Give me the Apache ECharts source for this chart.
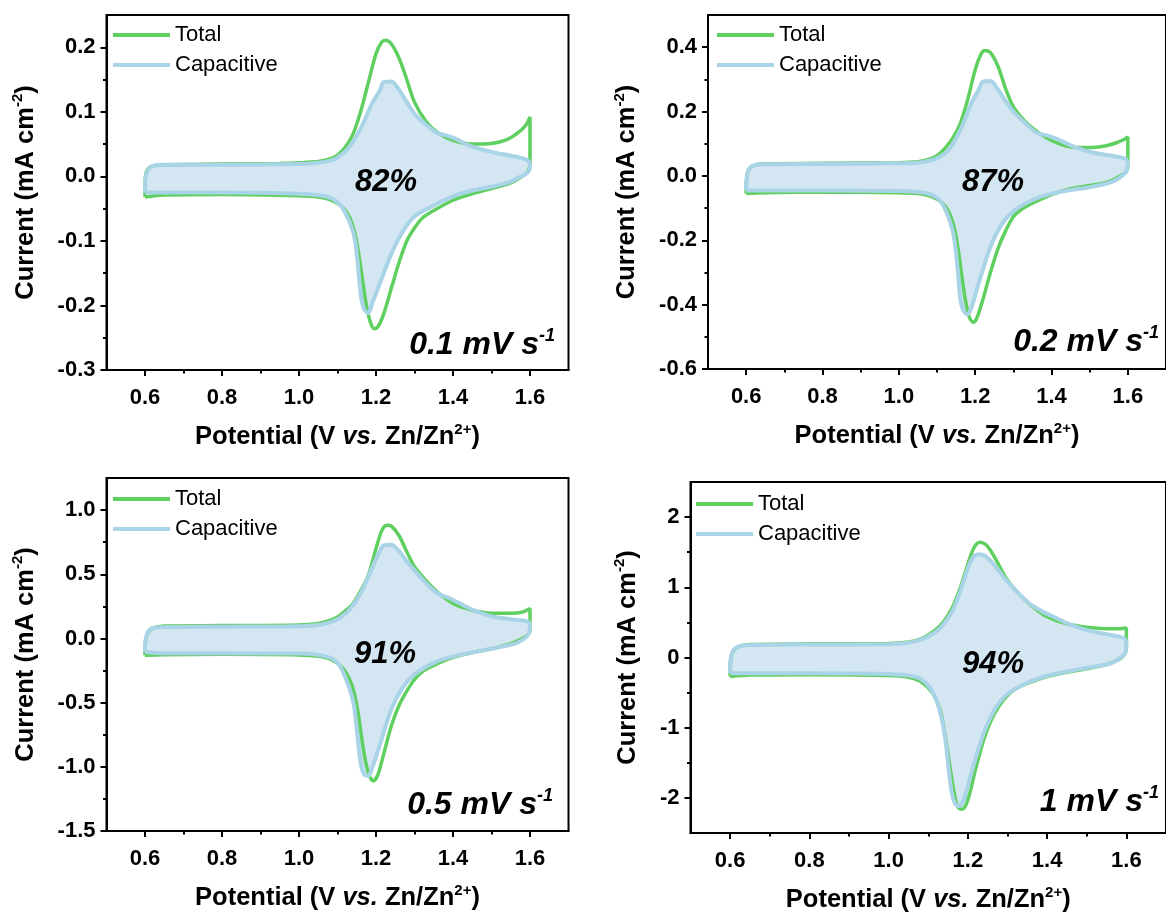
<!DOCTYPE html>
<html><head><meta charset="utf-8">
<script src="https://cdn.jsdelivr.net/npm/echarts@6/dist/echarts.min.js"></script>
<style>html,body{margin:0;padding:0;background:#fff}#c{width:1166px;height:914px}</style>
</head><body><div id="c"></div>
<script>
// ---------- data ----------
const xTicks = [0.6, 0.8, 1.0, 1.2, 1.4, 1.6];
const xMinor = [0.7, 0.9, 1.1, 1.3, 1.5];
const y1Ticks = [-0.3, -0.2, -0.1, 0, 0.1, 0.2];
const y1Minor = [-0.25, -0.15, -0.05, 0.05, 0.15];
const y2Ticks = [-0.6, -0.4, -0.2, 0, 0.2, 0.4];
const y2Minor = [-0.5, -0.3, -0.1, 0.1, 0.3];
const y3Ticks = [-1.5, -1.0, -0.5, 0, 0.5, 1.0];
const y3Minor = [-1.25, -0.75, -0.25, 0.25, 0.75];
const y4Ticks = [-2, -1, 0, 1, 2];
const y4Minor = [-1.5, -0.5, 0.5, 1.5];

const seriesNames = ['Total', 'Capacitive'];
const percents = ['82%', '87%', '91%', '94%'];
const rates = ['0.1', '0.2', '0.5', '1'];

const total1 = [[0.6,-0.032],[0.601,0.0],[0.607,0.011],[0.62,0.016],[0.65,0.018],[0.8,0.019],[0.95,0.02],[1.0,0.021],[1.05,0.023],[1.08,0.027],[1.1,0.033],[1.12,0.045],[1.14,0.065],[1.16,0.1],[1.18,0.145],[1.2,0.19],[1.215,0.208],[1.225,0.211],[1.24,0.205],[1.26,0.183],[1.28,0.15],[1.3,0.115],[1.33,0.085],[1.36,0.068],[1.4,0.056],[1.45,0.05],[1.5,0.051],[1.54,0.057],[1.57,0.068],[1.59,0.08],[1.6,0.092],
[1.6,0.06],[1.6,0.02],[1.595,0.008],[1.58,0.0],[1.55,-0.01],[1.5,-0.019],[1.45,-0.027],[1.4,-0.037],[1.35,-0.053],[1.32,-0.065],[1.3,-0.08],[1.28,-0.1],[1.26,-0.133],[1.24,-0.173],[1.22,-0.213],[1.205,-0.233],[1.195,-0.236],[1.185,-0.225],[1.175,-0.2],[1.165,-0.16],[1.155,-0.12],[1.145,-0.088],[1.13,-0.062],[1.11,-0.046],[1.08,-0.036],[1.05,-0.032],[1.0,-0.03],[0.8,-0.028],[0.65,-0.029],[0.6,-0.032]];
const cap1 = [[0.6,-0.025],[0.601,-0.005],[0.606,0.008],[0.615,0.015],[0.64,0.018],[0.8,0.018],[1.0,0.019],[1.05,0.021],[1.08,0.024],[1.1,0.029],[1.13,0.045],[1.16,0.074],[1.19,0.113],[1.21,0.133],[1.22,0.146],[1.24,0.147],[1.26,0.134],[1.28,0.115],[1.3,0.097],[1.33,0.08],[1.36,0.067],[1.38,0.064],[1.4,0.06],[1.45,0.046],[1.5,0.038],[1.55,0.032],[1.58,0.028],[1.595,0.024],[1.6,0.018],[1.598,0.009],
[1.59,0.004],[1.57,-0.002],[1.55,-0.008],[1.5,-0.016],[1.45,-0.022],[1.4,-0.031],[1.35,-0.045],[1.3,-0.062],[1.27,-0.085],[1.24,-0.12],[1.21,-0.166],[1.19,-0.197],[1.18,-0.212],[1.17,-0.207],[1.162,-0.19],[1.155,-0.15],[1.148,-0.11],[1.14,-0.085],[1.12,-0.056],[1.1,-0.04],[1.07,-0.031],[1.0,-0.027],[0.8,-0.025],[0.65,-0.025],[0.6,-0.025]];

const total2 = [[0.6,-0.055],[0.601,-0.01],[0.607,0.02],[0.62,0.033],[0.65,0.038],[0.8,0.039],[1.0,0.041],[1.05,0.044],[1.08,0.052],[1.1,0.063],[1.12,0.085],[1.14,0.115],[1.16,0.16],[1.18,0.235],[1.2,0.33],[1.215,0.378],[1.225,0.39],[1.24,0.383],[1.26,0.34],[1.28,0.27],[1.3,0.215],[1.33,0.17],[1.36,0.14],[1.4,0.11],[1.45,0.09],[1.5,0.088],[1.54,0.093],[1.57,0.103],[1.59,0.113],[1.6,0.121],
[1.6,0.08],[1.6,0.03],[1.595,0.012],[1.58,0.0],[1.55,-0.018],[1.5,-0.03],[1.45,-0.04],[1.4,-0.058],[1.35,-0.085],[1.32,-0.105],[1.3,-0.127],[1.28,-0.17],[1.26,-0.225],[1.24,-0.3],[1.22,-0.385],[1.205,-0.44],[1.195,-0.455],[1.185,-0.44],[1.175,-0.39],[1.165,-0.31],[1.155,-0.225],[1.145,-0.16],[1.13,-0.11],[1.11,-0.08],[1.08,-0.062],[1.05,-0.055],[1.0,-0.052],[0.8,-0.05],[0.65,-0.052],[0.6,-0.055]];
const cap2 = [[0.6,-0.045],[0.601,-0.01],[0.606,0.018],[0.615,0.03],[0.64,0.036],[0.8,0.037],[1.0,0.039],[1.05,0.041],[1.08,0.047],[1.1,0.055],[1.13,0.08],[1.16,0.14],[1.19,0.225],[1.21,0.27],[1.22,0.293],[1.24,0.295],[1.26,0.268],[1.28,0.232],[1.3,0.2],[1.33,0.165],[1.36,0.135],[1.39,0.125],[1.42,0.112],[1.45,0.095],[1.5,0.075],[1.55,0.064],[1.58,0.058],[1.595,0.052],[1.6,0.04],[1.598,0.018],
[1.59,0.005],[1.57,-0.012],[1.55,-0.022],[1.5,-0.035],[1.45,-0.044],[1.4,-0.055],[1.35,-0.075],[1.3,-0.11],[1.27,-0.15],[1.24,-0.22],[1.21,-0.33],[1.19,-0.41],[1.18,-0.43],[1.17,-0.42],[1.162,-0.39],[1.155,-0.3],[1.148,-0.22],[1.14,-0.165],[1.12,-0.1],[1.1,-0.068],[1.07,-0.053],[1.0,-0.047],[0.8,-0.045],[0.65,-0.045],[0.6,-0.045]];

const total3 = [[0.6,-0.13],[0.601,-0.03],[0.607,0.04],[0.62,0.08],[0.65,0.097],[0.8,0.1],[1.0,0.105],[1.05,0.117],[1.08,0.14],[1.1,0.168],[1.12,0.215],[1.14,0.27],[1.16,0.37],[1.18,0.49],[1.2,0.7],[1.215,0.84],[1.228,0.882],[1.24,0.875],[1.26,0.8],[1.28,0.675],[1.3,0.558],[1.33,0.45],[1.36,0.36],[1.4,0.273],[1.45,0.22],[1.5,0.197],[1.55,0.196],[1.58,0.205],[1.6,0.234],
[1.6,0.15],[1.6,0.06],[1.595,0.03],[1.58,0.0],[1.55,-0.04],[1.5,-0.08],[1.45,-0.11],[1.4,-0.148],[1.35,-0.21],[1.32,-0.26],[1.3,-0.32],[1.28,-0.41],[1.26,-0.52],[1.24,-0.68],[1.22,-0.9],[1.205,-1.06],[1.193,-1.11],[1.183,-1.07],[1.173,-0.96],[1.163,-0.78],[1.153,-0.57],[1.143,-0.42],[1.13,-0.31],[1.11,-0.22],[1.08,-0.16],[1.05,-0.138],[1.0,-0.128],[0.8,-0.124],[0.65,-0.126],[0.6,-0.13]];
const cap3 = [[0.6,-0.105],[0.601,-0.02],[0.606,0.04],[0.615,0.075],[0.64,0.088],[0.8,0.092],[1.0,0.095],[1.05,0.105],[1.08,0.125],[1.1,0.15],[1.13,0.22],[1.16,0.35],[1.19,0.55],[1.21,0.68],[1.22,0.725],[1.24,0.73],[1.26,0.68],[1.28,0.6],[1.3,0.53],[1.33,0.43],[1.36,0.35],[1.39,0.315],[1.42,0.27],[1.45,0.225],[1.5,0.172],[1.55,0.15],[1.58,0.14],[1.595,0.13],[1.6,0.11],[1.598,0.05],
[1.59,0.01],[1.57,-0.03],[1.55,-0.05],[1.5,-0.08],[1.45,-0.11],[1.4,-0.14],[1.35,-0.19],[1.3,-0.28],[1.27,-0.38],[1.24,-0.55],[1.21,-0.83],[1.19,-1.01],[1.18,-1.07],[1.17,-1.06],[1.162,-1.0],[1.155,-0.85],[1.148,-0.65],[1.14,-0.48],[1.12,-0.3],[1.1,-0.19],[1.07,-0.14],[1.0,-0.118],[0.8,-0.115],[0.65,-0.115],[0.6,-0.105]];

const total4 = [[0.6,-0.27],[0.601,-0.05],[0.607,0.08],[0.62,0.15],[0.65,0.185],[0.8,0.195],[1.0,0.2],[1.05,0.22],[1.08,0.26],[1.1,0.32],[1.12,0.4],[1.14,0.52],[1.16,0.7],[1.18,0.98],[1.2,1.33],[1.215,1.56],[1.23,1.64],[1.245,1.61],[1.26,1.5],[1.28,1.3],[1.3,1.1],[1.33,0.9],[1.36,0.74],[1.4,0.58],[1.45,0.48],[1.5,0.43],[1.55,0.41],[1.58,0.41],[1.6,0.42],
[1.6,0.3],[1.6,0.12],[1.595,0.04],[1.58,-0.03],[1.55,-0.1],[1.5,-0.16],[1.45,-0.21],[1.4,-0.27],[1.35,-0.37],[1.32,-0.45],[1.3,-0.54],[1.28,-0.68],[1.26,-0.88],[1.24,-1.17],[1.22,-1.58],[1.205,-1.93],[1.195,-2.1],[1.185,-2.16],[1.175,-2.13],[1.168,-2.0],[1.16,-1.75],[1.15,-1.38],[1.14,-1.02],[1.13,-0.75],[1.11,-0.5],[1.08,-0.34],[1.05,-0.28],[1.0,-0.255],[0.8,-0.245],[0.65,-0.25],[0.6,-0.27]];
const cap4 = [[0.6,-0.22],[0.601,-0.04],[0.606,0.08],[0.615,0.14],[0.64,0.175],[0.8,0.185],[1.0,0.19],[1.05,0.21],[1.08,0.25],[1.1,0.3],[1.13,0.42],[1.16,0.65],[1.18,0.93],[1.2,1.27],[1.215,1.44],[1.23,1.47],[1.245,1.44],[1.26,1.36],[1.28,1.22],[1.3,1.08],[1.33,0.9],[1.36,0.75],[1.39,0.65],[1.42,0.57],[1.45,0.49],[1.5,0.39],[1.55,0.33],[1.58,0.3],[1.595,0.27],[1.6,0.2],[1.598,0.08],
[1.59,0.02],[1.57,-0.06],[1.55,-0.1],[1.5,-0.15],[1.45,-0.2],[1.4,-0.26],[1.35,-0.36],[1.3,-0.52],[1.27,-0.72],[1.24,-1.08],[1.21,-1.62],[1.19,-2.02],[1.178,-2.12],[1.168,-2.08],[1.16,-1.95],[1.152,-1.62],[1.145,-1.25],[1.135,-0.9],[1.12,-0.6],[1.1,-0.4],[1.07,-0.28],[1.0,-0.235],[0.8,-0.225],[0.65,-0.225],[0.6,-0.22]];

// ---------- layout / style ----------
const FONT = '"Liberation Sans", Arial, Helvetica, sans-serif';
const GREEN = '#5fcf5f', BLUE = '#a9d3e6', FILL = '#d3e6f2';
const panels = [
  {grid:{left:106.5, top:15, width:462, height:355}, ymin:-0.3, ymax:0.25, yT:y1Ticks, yM:y1Minor, dec:1, total:total1, cap:cap1, yGap:66, pct:[386,182], rate:[555,345], leg:[113,22]},
  {grid:{left:708, top:15, width:463, height:354}, ymin:-0.6, ymax:0.5, yT:y2Ticks, yM:y2Minor, dec:1, total:total2, cap:cap2, yGap:66, pct:[993,182], rate:[1159,342], leg:[717,22]},
  {grid:{left:106.5, top:478, width:462, height:353}, ymin:-1.5, ymax:1.25, yT:y3Ticks, yM:y3Minor, dec:1, total:total3, cap:cap3, yGap:66, pct:[385,654], rate:[553,805], leg:[113,486]},
  {grid:{left:690.5, top:482, width:476, height:352}, ymin:-2.5, ymax:2.5, yT:y4Ticks, yM:y4Minor, dec:0, total:total4, cap:cap4, yGap:48, pct:[993,664], rate:[1159,802], leg:[696,491]}
];

const nameRich = {
  n: {fontFamily: FONT, fontWeight: 'bold', fontSize: 25.5, color: '#000', lineHeight: 30},
  i: {fontFamily: FONT, fontWeight: 'bold', fontStyle: 'italic', fontSize: 25.5, color: '#000', lineHeight: 30},
  s: {fontFamily: FONT, fontWeight: 'bold', fontSize: 15, color: '#000', lineHeight: 16, verticalAlign: 'top'}
};
const tickLine = {color: '#000', width: 2};

const option = {
  animation: false,
  backgroundColor: '#fff',
  grid: [], xAxis: [], yAxis: [], series: [], legend: [], graphic: []
};

panels.forEach((p, k) => {
  option.grid.push(Object.assign({show: true, borderColor: '#000', borderWidth: 2, backgroundColor: 'transparent'}, p.grid));
  option.xAxis.push({
    type: 'value', gridIndex: k, position: 'bottom', min: 0.5, max: 1.7,
    axisLine: {show: true, onZero: false, lineStyle: tickLine},
    axisTick: {show: true, customValues: xTicks, length: 6, lineStyle: tickLine},
    axisLabel: {customValues: xTicks, formatter: v => v.toFixed(1), fontFamily: FONT, fontWeight: 'bold', fontSize: 22, color: '#000', margin: 17},
    splitLine: {show: false},
    name: '{n|Potential (V }{i|vs.}{n| Zn/Zn}{s|2+}{n|)}',
    nameLocation: 'middle', nameGap: 52,
    nameTextStyle: {rich: nameRich}
  });
  option.xAxis.push({
    type: 'value', gridIndex: k, position: 'bottom', min: 0.5, max: 1.7,
    axisLine: {show: false, onZero: false}, axisLabel: {show: false}, splitLine: {show: false},
    axisTick: {show: true, customValues: xMinor, length: 3.5, lineStyle: tickLine}
  });
  option.yAxis.push({
    type: 'value', gridIndex: k, position: 'left', min: p.ymin, max: p.ymax,
    axisLine: {show: true, onZero: false, lineStyle: tickLine},
    axisTick: {show: true, customValues: p.yT, length: 6, lineStyle: tickLine},
    axisLabel: {customValues: p.yT, formatter: v => v.toFixed(p.dec), fontFamily: FONT, fontWeight: 'bold', fontSize: 22, color: '#000', margin: 11},
    splitLine: {show: false},
    name: '{n|Current (mA cm}{s|-2}{n|)}',
    nameLocation: 'middle', nameGap: p.yGap, nameRotate: 90,
    nameTextStyle: {rich: nameRich}
  });
  option.yAxis.push({
    type: 'value', gridIndex: k, position: 'left', min: p.ymin, max: p.ymax,
    axisLine: {show: false, onZero: false}, axisLabel: {show: false}, splitLine: {show: false},
    axisTick: {show: true, customValues: p.yM, length: 3.5, lineStyle: tickLine}
  });
  const capPts = p.cap;
  option.series.push({
    type: 'custom', name: 'fill', xAxisIndex: 2*k, yAxisIndex: 2*k, silent: true, z: 1,
    data: [[1.0, 0]],
    renderItem: (params, api) => ({
      type: 'polygon',
      shape: {points: capPts.map(pt => api.coord(pt)), smooth: 0.3},
      style: {fill: FILL, stroke: null}
    })
  });
  option.series.push({
    type: 'line', name: seriesNames[0], xAxisIndex: 2*k, yAxisIndex: 2*k, data: p.total,
    symbol: 'none', smooth: 0.3, z: 2, lineStyle: {color: GREEN, width: 3.5}, itemStyle: {color: GREEN}
  });
  option.series.push({
    type: 'line', name: seriesNames[1], xAxisIndex: 2*k, yAxisIndex: 2*k, data: p.cap,
    symbol: 'none', smooth: 0.3, z: 3, lineStyle: {color: BLUE, width: 4}, itemStyle: {color: BLUE}
  });
  option.legend.push({
    data: seriesNames, orient: 'vertical', left: p.leg[0], top: p.leg[1], padding: 0,
    icon: 'rect', itemWidth: 57, itemHeight: 4, itemGap: 4, selectedMode: false,
    textStyle: {fontFamily: FONT, fontSize: 22, color: '#000', lineHeight: 26}
  });
  option.graphic.push({
    type: 'text', x: p.pct[0], y: p.pct[1], z: 10,
    style: {text: percents[k], fill: '#000', font: 'italic bold 31px ' + FONT, align: 'center', verticalAlign: 'middle'}
  });
  option.graphic.push({
    type: 'text', x: p.rate[0], y: p.rate[1], z: 10,
    style: {
      text: '{r|' + rates[k] + ' mV s}{s|-1}', fill: '#000', align: 'right', verticalAlign: 'middle',
      rich: {
        r: {fontFamily: FONT, fontWeight: 'bold', fontStyle: 'italic', fontSize: 32, lineHeight: 36, fill: '#000'},
        s: {fontFamily: FONT, fontWeight: 'bold', fontStyle: 'italic', fontSize: 18, lineHeight: 20, verticalAlign: 'top', fill: '#000'}
      }
    }
  });
});

const chart = echarts.init(document.getElementById('c'), null, {renderer: 'canvas'});
chart.setOption(option);
</script>
</body></html>
